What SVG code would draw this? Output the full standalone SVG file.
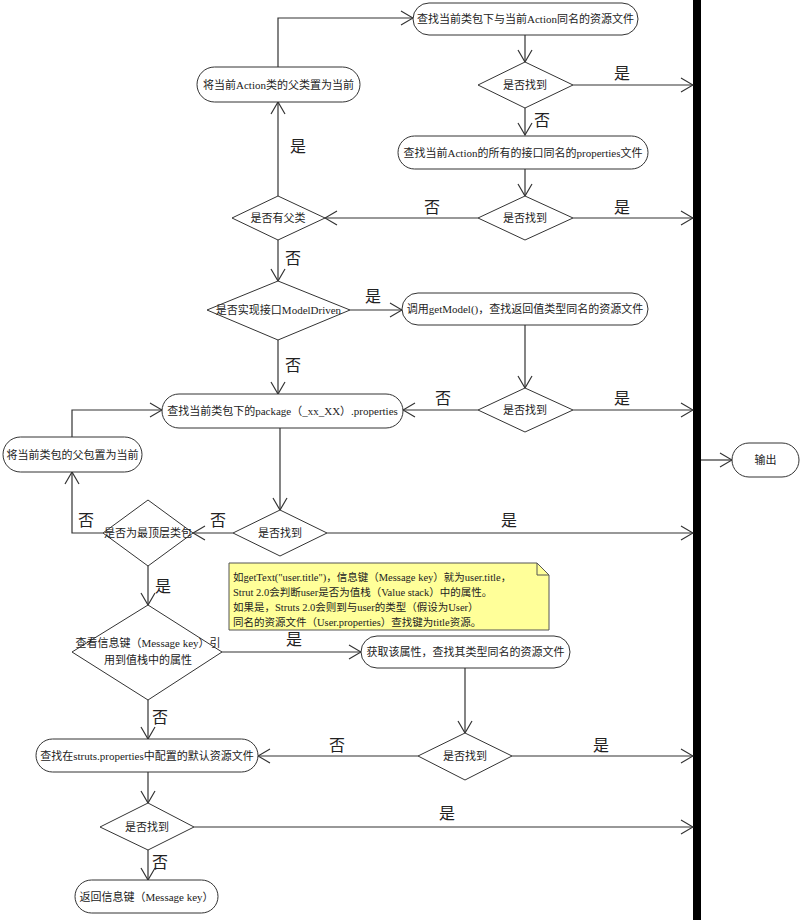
<svg xmlns="http://www.w3.org/2000/svg" width="804" height="920" viewBox="0 0 804 920">
<style>
.n{fill:#fff;stroke:#333;stroke-width:1}
.t{font-family:"Liberation Serif","Noto Sans CJK SC",serif;font-size:11px;fill:#222;text-anchor:middle;dominant-baseline:central}
.l{font-family:"Liberation Serif","Noto Sans CJK SC",serif;font-size:16px;fill:#222;text-anchor:middle;dominant-baseline:central}
.c{fill:none;stroke:#333;stroke-width:1.2}
.nt{font-family:"Liberation Serif","Noto Sans CJK SC",serif;font-size:10.5px;fill:#222}
</style>
<defs>
<marker id="a" markerUnits="userSpaceOnUse" markerWidth="14" markerHeight="18" refX="13" refY="8" orient="auto">
<path d="M1,1 L13,8 L1,15" fill="none" stroke="#333" stroke-width="1.2"/>
</marker>
</defs>
<rect width="804" height="920" fill="#fff"/>
<rect id="bar" x="693" y="0" width="8" height="920" fill="#000"/>

<g id="connectors">
<path class="c" d="M278,67 V18 H413" marker-end="url(#a)"/>
<path class="c" d="M525,35 V62" marker-end="url(#a)"/>
<path class="c" d="M573,85 H693" marker-end="url(#a)"/>
<path class="c" d="M525,108 V135" marker-end="url(#a)"/>
<path class="c" d="M525,169 V196" marker-end="url(#a)"/>
<path class="c" d="M573,218 H693" marker-end="url(#a)"/>
<path class="c" d="M478,218 H325" marker-end="url(#a)"/>
<path class="c" d="M278,196 V102" marker-end="url(#a)"/>
<path class="c" d="M278,240 V281" marker-end="url(#a)"/>
<path class="c" d="M350,310 H402" marker-end="url(#a)"/>
<path class="c" d="M525,325 V388" marker-end="url(#a)"/>
<path class="c" d="M573,410 H693" marker-end="url(#a)"/>
<path class="c" d="M478,410 H403" marker-end="url(#a)"/>
<path class="c" d="M278,340 V394" marker-end="url(#a)"/>
<path class="c" d="M72,437 V410 H162" marker-end="url(#a)"/>
<path class="c" d="M280,428 V510" marker-end="url(#a)"/>
<path class="c" d="M327,533 H693" marker-end="url(#a)"/>
<path class="c" d="M233,533 H193" marker-end="url(#a)"/>
<path class="c" d="M103,533 H72 V472" marker-end="url(#a)"/>
<path class="c" d="M148,566 V605" marker-end="url(#a)"/>
<path class="c" d="M222,652 H361" marker-end="url(#a)"/>
<path class="c" d="M465,668 V733" marker-end="url(#a)"/>
<path class="c" d="M512,756 H693" marker-end="url(#a)"/>
<path class="c" d="M418,756 H258" marker-end="url(#a)"/>
<path class="c" d="M148,700 V739" marker-end="url(#a)"/>
<path class="c" d="M148,772 V803" marker-end="url(#a)"/>
<path class="c" d="M194,827 H693" marker-end="url(#a)"/>
<path class="c" d="M148,850 V880" marker-end="url(#a)"/>
<path class="c" d="M701,460 H732" marker-end="url(#a)"/>
<text class="l" x="622" y="73">是</text>
<text class="l" x="542" y="120">否</text>
<text class="l" x="622" y="207">是</text>
<text class="l" x="432" y="207">否</text>
<text class="l" x="298" y="146">是</text>
<text class="l" x="293" y="258">否</text>
<text class="l" x="373" y="296">是</text>
<text class="l" x="293" y="365">否</text>
<text class="l" x="443" y="398">否</text>
<text class="l" x="622" y="398">是</text>
<text class="l" x="509" y="520">是</text>
<text class="l" x="218" y="520">否</text>
<text class="l" x="86" y="520">否</text>
<text class="l" x="163" y="586">是</text>
<text class="l" x="294" y="639">是</text>
<text class="l" x="337" y="745">否</text>
<text class="l" x="601" y="745">是</text>
<text class="l" x="160" y="717">否</text>
<text class="l" x="447" y="813">是</text>
<text class="l" x="160" y="862">否</text>
</g>

<g id="n1"><rect class="n" x="413" y="3" width="225" height="32" rx="16"/><text class="t" x="525.5" y="19">查找当前类包下与当前Action同名的资源文件</text></g>
<g id="d1"><polygon class="n" points="525,62 573,85 525,108 478,85"/><text class="t" x="525" y="85">是否找到</text></g>
<g id="n2"><rect class="n" x="398" y="136" width="250" height="33" rx="16.5"/><text class="t" x="523" y="152.5">查找当前Action的所有的接口同名的properties文件</text></g>
<g id="d2"><polygon class="n" points="525,196 573,218 525,240 478,218"/><text class="t" x="525" y="218">是否找到</text></g>
<g id="d3p"><polygon class="n" points="278,196 325,218 278,240 232,218"/><text class="t" x="278" y="218">是否有父类</text></g>
<g id="n3"><rect class="n" x="197" y="67" width="163" height="35" rx="17.5"/><text class="t" x="278.5" y="84.5">将当前Action类的父类置为当前</text></g>
<g id="dmd"><polygon class="n" points="278,281 350,310 278,340 207,310"/><text class="t" x="278.5" y="310">是否实现接口ModelDriven</text></g>
<g id="n4"><rect class="n" x="402" y="293" width="246" height="32" rx="16"/><text class="t" x="525" y="309">调用getModel()，查找返回值类型同名的资源文件</text></g>
<g id="d4"><polygon class="n" points="525,388 573,410 525,432 478,410"/><text class="t" x="525" y="410">是否找到</text></g>
<g id="n5"><rect class="n" x="162" y="394" width="241" height="34" rx="17"/><text class="t" x="282.5" y="411">查找当前类包下的package（_xx_XX）.properties</text></g>
<g id="n6"><rect class="n" x="3" y="437" width="139" height="35" rx="17.5"/><text class="t" x="72.5" y="454.5">将当前类包的父包置为当前</text></g>
<g id="d5"><polygon class="n" points="280,510 327,533 280,556 233,533"/><text class="t" x="280" y="533">是否找到</text></g>
<g id="d6"><polygon class="n" points="148,500 193,533 148,566 103,533"/><text class="t" x="148" y="533">是否为最顶层类包</text></g>
<g id="d7"><polygon class="n" points="148,605 222,652 148,700 72,652"/><text class="t" x="148" y="643">查看信息键（Message key）引</text><text class="t" x="148" y="660">用到值栈中的属性</text></g>
<g id="note"><path d="M229,563 H537 L549,575 V630 H229 Z" fill="#ffff99" stroke="#555" stroke-width="1"/><path d="M537,563 V575 H549" fill="none" stroke="#555" stroke-width="1"/>
<text class="nt" x="233" y="581">如getText("user.title")，信息键（Message key）就为user.title，</text>
<text class="nt" x="233" y="596">Strut 2.0会判断user是否为值栈（Value stack）中的属性。</text>
<text class="nt" x="233" y="611">如果是，Struts 2.0会则到与user的类型（假设为User）</text>
<text class="nt" x="233" y="626">同名的资源文件（User.properties）查找键为title资源。</text></g>
<g id="n7"><rect class="n" x="361" y="636" width="209" height="32" rx="16"/><text class="t" x="465.5" y="652">获取该属性，查找其类型同名的资源文件</text></g>
<g id="d8"><polygon class="n" points="465,733 512,756 465,780 418,756"/><text class="t" x="465" y="756">是否找到</text></g>
<g id="n8"><rect class="n" x="36" y="739" width="222" height="33" rx="16.5"/><text class="t" x="147" y="755.5">查找在struts.properties中配置的默认资源文件</text></g>
<g id="d9"><polygon class="n" points="148,803 194,827 148,850 100,827"/><text class="t" x="147" y="827">是否找到</text></g>
<g id="n9"><rect class="n" x="75" y="880" width="143" height="33" rx="16.5"/><text class="t" x="146.5" y="896.5">返回信息键（Message key）</text></g>
<g id="out"><rect class="n" x="732" y="443" width="67" height="34" rx="17"/><text class="t" x="765.5" y="460">输出</text></g>
</svg>
